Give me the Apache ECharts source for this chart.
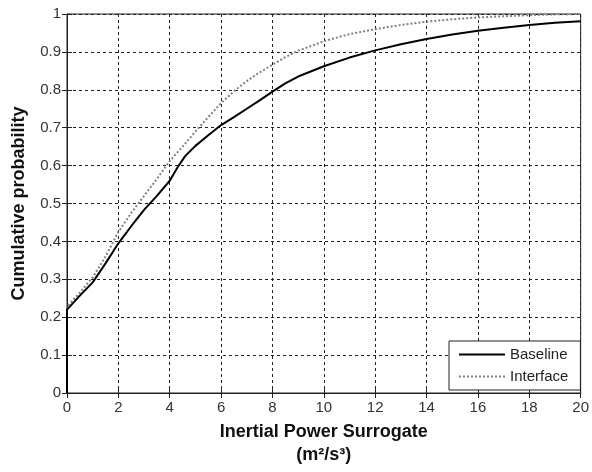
<!DOCTYPE html>
<html>
<head>
<meta charset="utf-8">
<script src="https://cdn.jsdelivr.net/npm/echarts@6/dist/echarts.min.js"></script>
<style>
  html, body { margin: 0; padding: 0; background: #fff; }
  #chart { width: 592px; height: 472px; }
</style>
</head>
<body>
<div id="chart"></div>
<script>
// values
const baselineX = [0, 0, 0.5, 1, 1.5, 2, 2.5, 3, 3.5, 4, 4.3, 4.6, 5, 5.5, 6, 6.5, 7, 7.5, 8, 8.5, 9, 10, 11, 12, 13, 14, 15, 16, 17, 18, 19, 20];
const baselineY = [0, 0.22, 0.257, 0.292, 0.342, 0.395, 0.44, 0.483, 0.52, 0.56, 0.595, 0.625, 0.652, 0.68, 0.707, 0.728, 0.75, 0.772, 0.795, 0.817, 0.835, 0.862, 0.885, 0.904, 0.92, 0.934, 0.946, 0.956, 0.964, 0.971, 0.977, 0.981];

const interfaceX = [0, 0, 0.5, 1, 1.5, 2, 2.5, 3, 3.5, 4, 4.5, 5, 5.5, 6, 6.5, 7, 7.5, 8, 8.5, 9, 10, 11, 12, 13, 14, 15, 16, 17, 18, 19, 20];
const interfaceY = [0, 0.228, 0.265, 0.305, 0.36, 0.425, 0.475, 0.52, 0.565, 0.612, 0.65, 0.69, 0.728, 0.765, 0.796, 0.823, 0.846, 0.866, 0.886, 0.903, 0.928, 0.947, 0.96, 0.971, 0.98, 0.986, 0.991, 0.994, 0.997, 0.999, 1.0];

const seriesNames = ['Baseline', 'Interface'];

const pairs = (xs, ys) => xs.map((x, i) => [x, ys[i]]);

const font = 'Liberation Sans, Arial, sans-serif';
const gridLine = { show: true, lineStyle: { color: '#222', type: [3, 3], width: 1 } };

const chart = echarts.init(document.getElementById('chart'));

const option = {
  animation: false,
  backgroundColor: '#fff',
  grid: { left: 67, right: 8, top: 14, bottom: 75, show: true, borderColor: '#222', borderWidth: 1 },
  legend: {
    data: seriesNames,
    orient: 'vertical',
    left: 449,
    top: 341,
    padding: [6, 12, 6, 9],
    itemGap: 7,
    itemWidth: 46,
    itemHeight: 15,
    backgroundColor: '#fff',
    borderColor: '#222',
    borderWidth: 1,
    borderRadius: 0,
    itemStyle: { opacity: 0 },
    textStyle: { fontFamily: font, fontSize: 15, color: '#222' }
  },
  xAxis: [
    {
      type: 'value', min: 0, max: 20, interval: 2,
      name: 'Inertial Power Surrogate\n(m²/s³)',
      nameLocation: 'middle', nameGap: 28,
      nameTextStyle: { fontFamily: font, fontSize: 18, fontWeight: 'bold', color: '#111', lineHeight: 23 },
      axisLine: { show: true, lineStyle: { color: '#222' } },
      axisTick: { show: true, inside: true, length: 5, lineStyle: { color: '#222' } },
      axisLabel: { fontFamily: font, fontSize: 15, color: '#333', margin: 7 },
      splitLine: gridLine
    },
    {
      type: 'value', min: 0, max: 20, interval: 2, position: 'top',
      axisLine: { show: true, lineStyle: { color: '#222' } },
      axisTick: { show: true, inside: true, length: 5, lineStyle: { color: '#222' } },
      axisLabel: { show: false },
      splitLine: { show: false }
    }
  ],
  yAxis: [
    {
      type: 'value', min: 0, max: 1, interval: 0.1,
      name: 'Cumulative probability',
      nameLocation: 'middle', nameGap: 39,
      nameTextStyle: { fontFamily: font, fontSize: 18, fontWeight: 'bold', color: '#111' },
      axisLine: { show: true, lineStyle: { color: '#222' } },
      axisTick: { show: true, inside: true, length: 5, lineStyle: { color: '#222' } },
      axisLabel: {
        fontFamily: font, fontSize: 15, color: '#333', margin: 6,
        formatter: v => (Math.round(v * 10) / 10).toString()
      },
      splitLine: gridLine
    },
    {
      type: 'value', min: 0, max: 1, interval: 0.1, position: 'right',
      axisLine: { show: true, lineStyle: { color: '#222' } },
      axisTick: { show: true, inside: true, length: 5, lineStyle: { color: '#222' } },
      axisLabel: { show: false },
      splitLine: { show: false }
    }
  ],
  series: [
    {
      name: seriesNames[0],
      type: 'line',
      data: pairs(baselineX, baselineY),
      symbol: 'none',
      lineStyle: { color: '#000', width: 2 },
      itemStyle: { color: '#000' },
      z: 3
    },
    {
      name: seriesNames[1],
      type: 'line',
      data: pairs(interfaceX, interfaceY),
      symbol: 'none',
      lineStyle: { color: '#808080', width: 2, type: [2, 2] },
      itemStyle: { color: '#808080' },
      z: 2
    }
  ]
};

chart.setOption(option);
</script>
</body>
</html>
